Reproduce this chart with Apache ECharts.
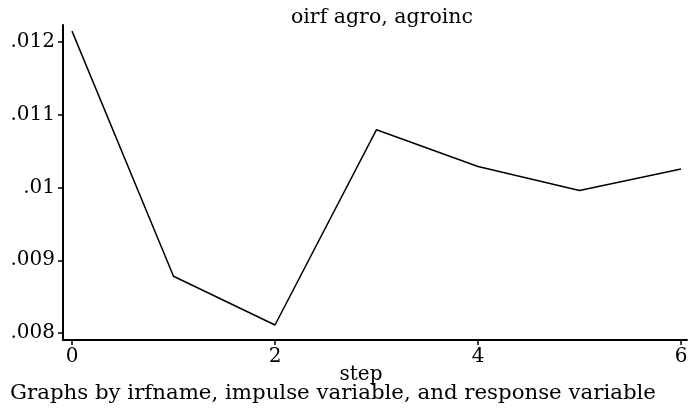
<!DOCTYPE html>
<html>
<head>
<meta charset="utf-8">
<script src="https://cdn.jsdelivr.net/npm/echarts@6/dist/echarts.min.js"></script>
<style>html,body{margin:0;padding:0;background:#fff}#c{width:700px;height:413px}</style>
</head>
<body>
<div id="c"></div>
<script>
const steps = [0, 1, 2, 3, 4, 5, 6];
const oirf = [0.01215, 0.00878, 0.00811, 0.010795, 0.01029, 0.00996, 0.010256];
const xTicks = [0, 2, 4, 6];
const yTicks = [0.008, 0.009, 0.010, 0.011, 0.012];
const yTickLabels = ['.008', '.009', '.01', '.011', '.012'];
const titleText = 'oirf agro, agroinc';
const xTitle = 'step';
const noteText = 'Graphs by irfname, impulse variable, and response variable';

const FONT = 'DejaVu Serif';
const chart = echarts.init(document.getElementById('c'), null, {renderer: 'canvas'});
chart.setOption({
  animation: false,
  backgroundColor: '#fff',
  title: [
    {text: titleText, left: 377, top: 2, textAlign: 'center',
     textStyle: {fontFamily: FONT, fontSize: 20.5, fontWeight: 'normal', color: '#000'}},
    {text: xTitle, left: 356, top: 360, textAlign: 'center',
     textStyle: {fontFamily: FONT, fontSize: 20, fontWeight: 'normal', color: '#000'}},
    {text: noteText, left: 5, top: 378,
     textStyle: {fontFamily: FONT, fontSize: 21.3, fontWeight: 'normal', color: '#000'}}
  ],
  grid: {left: 63, right: 13, top: 25, bottom: 73, containLabel: false},
  xAxis: {
    type: 'value', min: -0.0887, max: 6.059,
    axisLine: {show: true, onZero: false, lineStyle: {color: '#000', width: 2}},
    axisTick: {show: true, length: 5, customValues: xTicks, lineStyle: {color: '#000', width: 1.5}},
    axisLabel: {show: true, margin: 7, customValues: xTicks, fontFamily: FONT, fontSize: 20, color: '#000'},
    splitLine: {show: false}
  },
  yAxis: {
    type: 'value', min: 0.007904, max: 0.012234,
    axisLine: {show: true, onZero: false, lineStyle: {color: '#000', width: 2}},
    axisTick: {show: true, length: 5, customValues: yTicks, lineStyle: {color: '#000', width: 1.5}},
    axisLabel: {show: true, margin: 8, customValues: yTicks, fontFamily: FONT, fontSize: 20, color: '#000',
      formatter: function (v) {
        for (let i = 0; i < yTicks.length; i++) if (Math.abs(yTicks[i] - v) < 1e-9) return yTickLabels[i];
        return '';
      }},
    splitLine: {show: false}
  },
  series: [{
    type: 'line', data: steps.map((s, i) => [s, oirf[i]]),
    showSymbol: false, symbol: 'none',
    lineStyle: {color: '#000', width: 1.5}
  }]
});
</script>
</body>
</html>
